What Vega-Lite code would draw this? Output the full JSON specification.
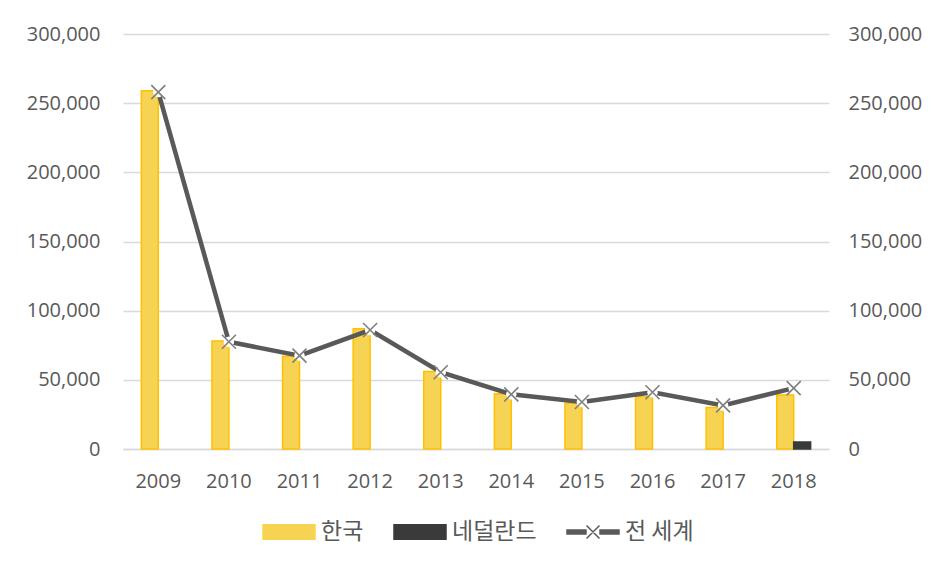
{
  "$schema": "https://vega.github.io/schema/vega-lite/v6.json",
  "autosize": "none",
  "width": 706,
  "height": 415,
  "padding": {"left": 123, "top": 34, "right": 106, "bottom": 114},
  "background": "white",
  "config": {
    "view": {"stroke": null},
    "font": "Open Sans",
    "axis": {"labelFont": "Open Sans", "labelFontSize": 20, "labelColor": "#595959", "titleFont": "Open Sans"}
  },
  "data": {
    "values": [
      {"year": "2009", "series": "한국", "value": 259000},
      {"year": "2010", "series": "한국", "value": 78000},
      {"year": "2011", "series": "한국", "value": 67000},
      {"year": "2012", "series": "한국", "value": 87000},
      {"year": "2013", "series": "한국", "value": 56000},
      {"year": "2014", "series": "한국", "value": 40000},
      {"year": "2015", "series": "한국", "value": 33000},
      {"year": "2016", "series": "한국", "value": 38000},
      {"year": "2017", "series": "한국", "value": 30000},
      {"year": "2018", "series": "한국", "value": 39000},
      {"year": "2018", "series": "네덜란드", "value": 5000},
      {"year": "2009", "series": "전 세계", "value": 258000},
      {"year": "2010", "series": "전 세계", "value": 77500},
      {"year": "2011", "series": "전 세계", "value": 67500},
      {"year": "2012", "series": "전 세계", "value": 86000},
      {"year": "2013", "series": "전 세계", "value": 55500},
      {"year": "2014", "series": "전 세계", "value": 39500},
      {"year": "2015", "series": "전 세계", "value": 34000},
      {"year": "2016", "series": "전 세계", "value": 41000},
      {"year": "2017", "series": "전 세계", "value": 31500},
      {"year": "2018", "series": "전 세계", "value": 44000}
    ]
  },
  "encoding": {
    "x": {
      "field": "year", "type": "nominal", "title": null,
      "scale": {"paddingInner": 0.52, "paddingOuter": 0.26},
      "axis": {"labelAngle": 0, "domain": true, "domainColor": "#D9D9D9", "domainWidth": 1.3, "ticks": false, "labelPadding": 38, "labelBaseline": "alphabetic", "grid": false}
    }
  },
  "layer": [
    {
      "transform": [{"filter": "datum.series !== '전 세계'"}],
      "mark": {"type": "bar", "strokeWidth": 1.5},
      "encoding": {
        "xOffset": {"field": "series", "type": "nominal", "scale": {"domain": ["한국", "네덜란드"]}},
        "y": {
          "field": "value", "type": "quantitative", "title": null,
          "scale": {"domain": [0, 300000], "nice": false},
          "axis": {"orient": "left", "values": [0, 50000, 100000, 150000, 200000, 250000, 300000], "format": ",.0f", "grid": true, "gridColor": "#D9D9D9", "gridWidth": 1.3, "domain": false, "ticks": false, "labelPadding": 23}
        },
        "color": {
          "field": "series", "type": "nominal",
          "scale": {"domain": ["한국", "네덜란드", "전 세계"], "range": ["#F7D353", "#3A3A3A", "#595959"]},
          "legend": {
            "title": null, "orient": "none", "legendX": 139, "legendY": 471, "direction": "horizontal", "columns": 3,
            "padding": 0, "symbolSize": 2704, "columnPadding": 27, "labelOffset": 5,
            "symbolType": {"expr": "datum.value === '전 세계' ? 'M-1,-0.08H-0.27V0.08H-1Z M0.27,-0.08H1V0.08H0.27Z M-0.25,-0.25L0.25,0.25 M-0.25,0.25L0.25,-0.25' : 'M-1,-0.28H1V0.28H-1Z'"},
            "labelFont": "Noto Sans CJK KR", "labelFontSize": 23, "labelColor": "#595959", "labelLimit": 200,
            "encode": {
              "symbols": {
                "update": {
                  "shape": {"signal": "datum.value === '전 세계' ? 'M-1,-0.08H-0.27V0.08H-1Z M0.27,-0.08H1V0.08H0.27Z M-0.25,-0.25L0.25,0.25 M-0.25,0.25L0.25,-0.25' : 'M-1,-0.28H1V0.28H-1Z'"},
                  "fill": {"signal": "datum.value === '한국' ? '#F7D353' : datum.value === '네덜란드' ? '#3A3A3A' : '#595959'"},
                  "stroke": {"signal": "datum.value === '한국' ? '#FFC000' : datum.value === '네덜란드' ? '#3A3A3A' : '#7F7F7F'"},
                  "strokeWidth": {"value": 1.5},
                  "opacity": {"value": 1},
                  "fillOpacity": {"value": 1}
                }
              }
            }
          }
        },
        "stroke": {"condition": {"test": "datum.series === '한국'", "value": "#FFC000"}, "value": "#3A3A3A"}
      }
    },
    {
      "transform": [{"filter": "datum.series === '전 세계'"}],
      "encoding": {
        "y": {
          "field": "value", "type": "quantitative", "title": null,
          "scale": {"domain": [0, 300000], "nice": false},
          "axis": {"orient": "right", "values": [0, 50000, 100000, 150000, 200000, 250000, 300000], "format": ",.0f", "grid": false, "domain": false, "ticks": false, "labelPadding": 19}
        }
      },
      "layer": [
        {
          "mark": {"type": "line", "strokeWidth": 4.5},
          "encoding": {"color": {"field": "series", "type": "nominal"}}
        },
        {
          "mark": {"type": "point", "shape": "circle", "filled": true, "color": "white", "opacity": 1, "size": 110}
        },
        {
          "mark": {"type": "point", "shape": "M-1,-1L1,1M-1,1L1,-1", "filled": false, "stroke": "#7F7F7F", "strokeWidth": 1.6, "opacity": 1, "size": 196}
        }
      ]
    }
  ],
  "resolve": {"scale": {"y": "independent"}}
}
